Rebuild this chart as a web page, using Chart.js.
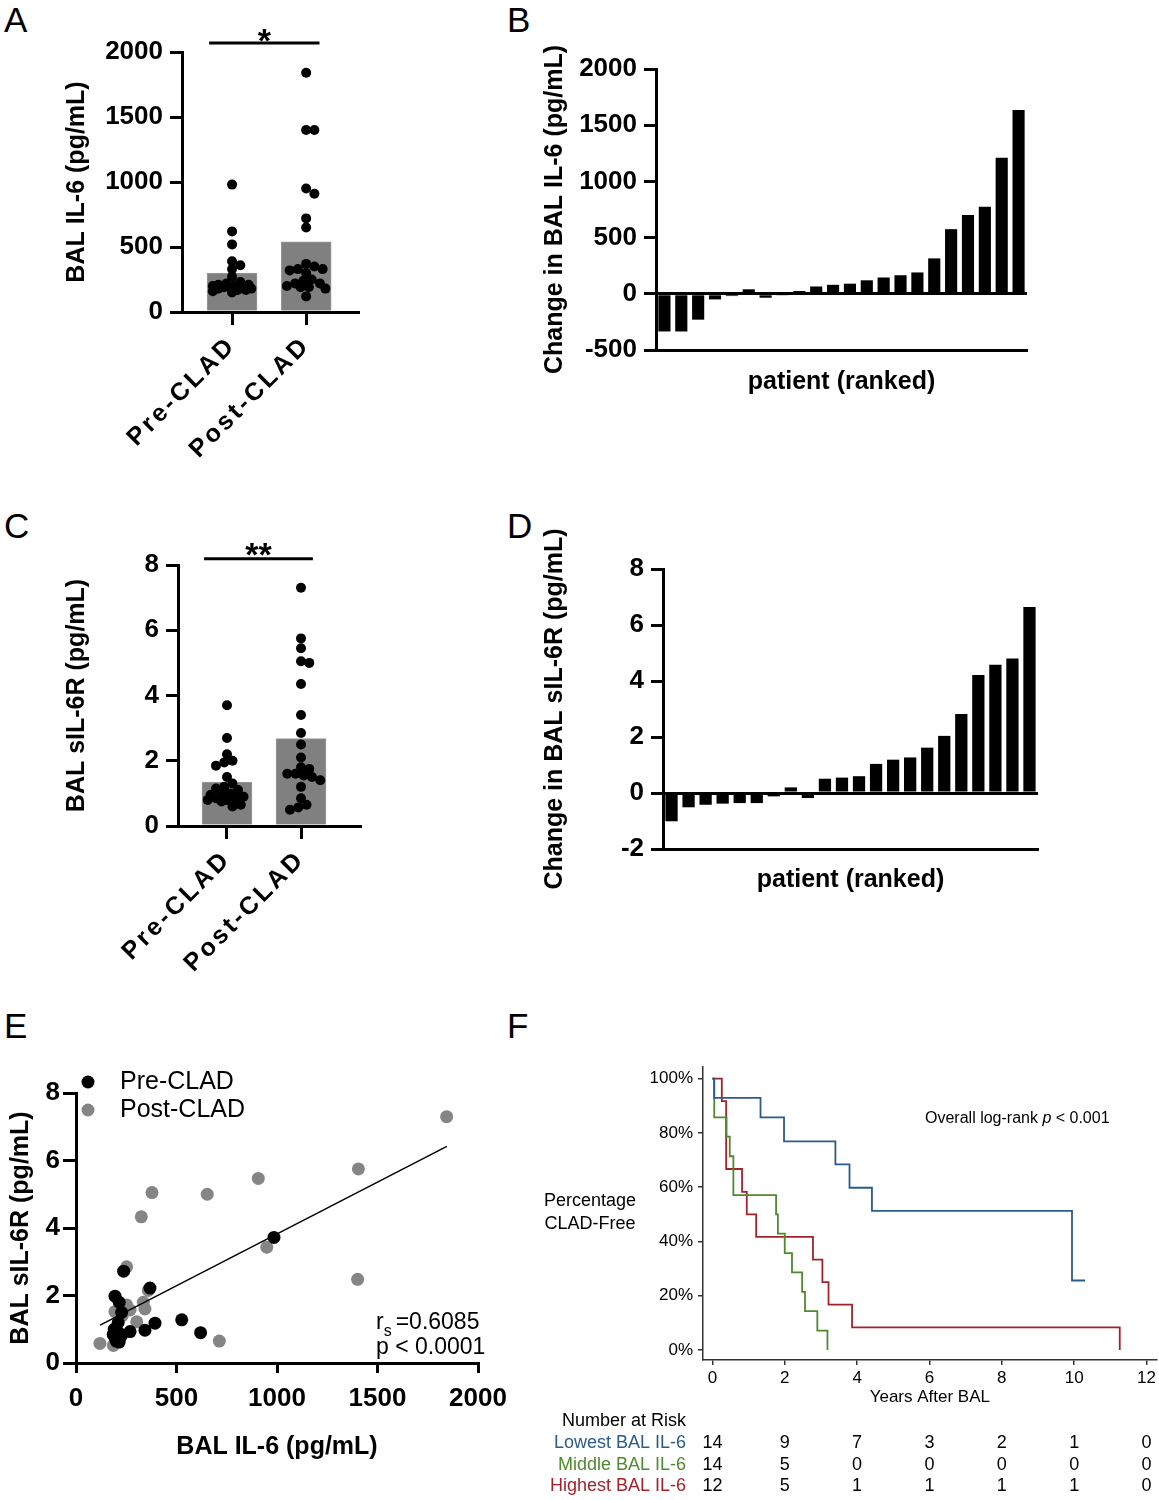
<!DOCTYPE html>
<html><head><meta charset="utf-8">
<script src="https://cdn.jsdelivr.net/npm/chart.js@4.4.1/dist/chart.umd.min.js"></script>
<style>
html,body{margin:0;padding:0;background:#fff;}
body{width:1159px;height:1500px;position:relative;overflow:hidden;font-family:"Liberation Sans",Arial,Helvetica,sans-serif;}
canvas{position:absolute;}
.lbl{position:absolute;font-size:35px;line-height:1;color:#000;font-family:"Liberation Sans",Arial,sans-serif;}
</style></head><body>
<div class="lbl" style="left:4px;top:2px">A</div>
<div class="lbl" style="left:507px;top:2px">B</div>
<div class="lbl" style="left:4px;top:508px">C</div>
<div class="lbl" style="left:507px;top:508px">D</div>
<div class="lbl" style="left:4px;top:1008px">E</div>
<div class="lbl" style="left:507px;top:1008px">F</div>
<script>
// ---------------- DATA ----------------
const groupLabels = ['Pre-CLAD', 'Post-CLAD'];

const il6Pre  = [980, 620, 520, 390, 360, 330, 270, 230, 220, 210, 210, 200, 200, 200, 190, 190, 180, 180, 170, 170, 160, 150];
const il6Post = [1840, 1400, 1400, 950, 910, 720, 650, 370, 350, 330, 330, 320, 300, 250, 240, 220, 220, 200, 190, 190, 180, 120];
const il6BarMeans = [300, 540];

const il6Change = [-335, -335, -230, -50, -20, 40, -35, -15, 25, 65, 80, 90, 120, 145, 165, 190, 315, 575, 700, 775, 1210, 1635];

const sil6rPre  = [3.7, 2.7, 2.2, 2.0, 1.95, 1.85, 1.5, 1.3, 1.2, 1.15, 1.1, 1.0, 0.95, 0.95, 0.9, 0.85, 0.85, 0.8, 0.8, 0.75, 0.65, 0.6];
const sil6rPost = [7.3, 5.75, 5.45, 5.05, 5.0, 4.35, 3.4, 2.85, 2.5, 2.1, 1.8, 1.75, 1.6, 1.6, 1.55, 1.5, 1.4, 1.2, 0.85, 0.65, 0.57, 0.5];
const sil6rBarMeans = [1.35, 2.68];

const sil6rChange = [-1.01, -0.51, -0.42, -0.38, -0.36, -0.36, -0.12, 0.2, -0.18, 0.51, 0.55, 0.6, 1.04, 1.19, 1.27, 1.62, 2.04, 2.82, 4.21, 4.58, 4.8, 6.64];

const corrPreIL6    = [985, 620, 526, 393, 368, 343, 269, 237, 194, 215, 227, 210, 190, 205, 185, 215, 195, 210, 200, 215, 190, 225];
const corrPreSIL6R  = [3.72, 0.9, 1.28, 1.18, 2.22, 0.97, 0.93, 2.72, 1.98, 1.8, 1.5, 1.2, 1.0, 0.95, 0.85, 0.88, 0.75, 0.7, 0.65, 0.62, 0.8, 0.8];
const corrPostIL6   = [1844, 1405, 907, 378, 653, 325, 949, 252, 1401, 360, 335, 343, 252, 269, 194, 302, 119, 186, 713, 230, 210, 240];
const corrPostSIL6R = [7.3, 5.75, 5.47, 5.05, 5.0, 4.33, 3.43, 2.85, 2.48, 2.15, 1.8, 1.6, 1.72, 1.57, 1.52, 1.22, 0.58, 0.52, 0.65, 1.4, 0.85, 1.65];
const regIL6   = [120, 1845];
const regSIL6R = [1.12, 6.42];
const corrStat = ['=0.6085', 'p < 0.0001'];

const kmLowT  = [0, 0.05, 1.33, 1.98, 3.4, 3.79, 4.41, 9.94, 10.3];
const kmLowS  = [100, 92.9, 85.7, 76.9, 68.4, 59.8, 51.3, 25.6, 25.6];
const kmMidT  = [0, 0.05, 0.39, 0.48, 0.58, 1.76, 1.81, 2.0, 2.2, 2.48, 2.56, 2.9, 3.18];
const kmMidS  = [100, 85.7, 78.6, 71.4, 57.1, 50.0, 42.9, 35.7, 28.6, 21.4, 14.3, 7.1, 0];
const kmHighT = [0, 0.26, 0.38, 0.82, 0.95, 1.21, 2.78, 3.04, 3.21, 3.86, 11.26];
const kmHighS = [100, 91.7, 66.7, 58.3, 50.0, 41.7, 33.3, 25.0, 16.7, 8.3, 0];
const kmGroups = ['Lowest BAL IL-6', 'Middle BAL IL-6', 'Highest BAL IL-6'];
const riskTimes = [0, 2, 4, 6, 8, 10, 12];
const riskLow  = [14, 9, 7, 3, 2, 1, 0];
const riskMid  = [14, 5, 0, 0, 0, 0, 0];
const riskHigh = [12, 5, 1, 1, 1, 1, 0];
const kmYTicks = [0, 20, 40, 60, 80, 100];

// ---------------- HELPERS ----------------
const FONT = '"Liberation Sans", Arial, Helvetica, sans-serif';
Chart.defaults.font.family = FONT;
Chart.defaults.color = '#000';
const plain = v => String(v);

function makeCanvas(x, y, w, h) {
  const c = document.createElement('canvas');
  c.width = w; c.height = h;
  c.style.left = x + 'px'; c.style.top = y + 'px';
  c.style.width = w + 'px'; c.style.height = h + 'px';
  document.body.appendChild(c);
  return c;
}
function pad(box, area, yW, xH) {
  return {left: area.l - box.x - yW, top: area.t - box.y, right: box.x + box.w - area.r, bottom: box.y + box.h - area.b - xH};
}
const baseOpts = {responsive: false, animation: false, devicePixelRatio: 1, events: []};

// deterministic beeswarm: spread overlapping points sideways, kept within the bar
function swarm(chart, dsIndex, values, groupIndex, r, maxOff) {
  const xs = chart.scales.x, ys = chart.scales.y, cx = xs.getPixelForValue(groupIndex);
  const placed = [], out = [];
  const order = values.map((v, i) => i).sort((a, b) => values[b] - values[a]);
  const minD = 1.55 * r;
  for (const i of order) {
    const py = ys.getPixelForValue(values[i]);
    let best = cx, bestScore = -1;
    for (let k = 0; k < 60; k++) {
      const off = Math.ceil(k / 2) * (k % 2 ? 1 : -1) * r * 0.55;
      if (Math.abs(off) > maxOff) continue;
      const cand = cx + off;
      const d = placed.length ? Math.min(...placed.map(p => Math.hypot(p.x - cand, p.y - py))) : 1e9;
      if (d >= minD) { best = cand; bestScore = 1e9; break; }
      if (d > bestScore) { bestScore = d; best = cand; }
    }
    placed.push({x: best, y: py});
    out[i] = {x: xs.getValueForPixel(best), y: values[i]};
  }
  chart.data.datasets[dsIndex].data = out;
}

function sigPlugin(x0, x1, yv, text, dy) {
  return {id: 'sig', afterDraw(c) {
    const ctx = c.ctx, xs = c.scales.x, ys = c.scales.y;
    ctx.save();
    ctx.letterSpacing = '0px';
    const y = ys.getPixelForValue(yv), a = xs.getPixelForValue(x0), b = xs.getPixelForValue(x1);
    ctx.strokeStyle = '#000'; ctx.lineWidth = 3;
    ctx.beginPath(); ctx.moveTo(a, y); ctx.lineTo(b, y); ctx.stroke();
    ctx.fillStyle = '#000'; ctx.font = 'bold 34px ' + FONT;
    ctx.textAlign = 'center'; ctx.textBaseline = 'alphabetic';
    ctx.fillText(text, (a + b) / 2, y + dy);
    ctx.restore();
  }};
}
const spacedTicks = {id: 'spaced',
  beforeDraw(c) { c.ctx.letterSpacing = '0px'; },
  afterDatasetsDraw(c) { c.ctx.letterSpacing = '3px'; },
  afterDraw(c) { c.ctx.letterSpacing = '0px'; }};

const boldTick = {size: 26, weight: 'bold'};
const boldTitle = {size: 25, weight: 'bold'};

// ---------------- GROUP PANELS (A, C) ----------------
function groupPanel(o) {
  const cv = makeCanvas(o.box.x, o.box.y, o.box.w, o.box.h);
  const chart = new Chart(cv, {
    type: 'bar',
    data: {datasets: [
      {type: 'scatter', label: groupLabels[0], data: [], backgroundColor: '#000', pointBackgroundColor: '#000', pointBorderWidth: 0, pointRadius: 5, order: 0},
      {type: 'scatter', label: groupLabels[1], data: [], backgroundColor: '#000', pointBackgroundColor: '#000', pointBorderWidth: 0, pointRadius: 5, order: 0},
      {type: 'bar', label: 'mean', data: o.means.map((m, i) => ({x: i, y: m})), backgroundColor: '#808080', borderColor: '#9c9c9c', borderWidth: 1, barThickness: 50, order: 1}
    ]},
    options: Object.assign({}, baseOpts, {
      layout: {padding: pad(o.box, o.area, o.yW, o.xH)},
      plugins: {legend: {display: false}, tooltip: {enabled: false}},
      scales: {
        x: {type: 'linear', min: o.xMin, max: o.xMax, offset: false,
          afterBuildTicks: s => { s.ticks = groupLabels.map((_, i) => ({value: i})); },
          afterFit: s => { s.height = o.xH; },
          ticks: {autoSkip: false, maxRotation: 45, minRotation: 45, padding: o.xPad, font: {size: 25, weight: 'bold'}, color: '#000', z: 1,
                  callback: v => groupLabels[v]},
          grid: {display: true, offset: false, drawOnChartArea: false, drawTicks: true, tickLength: 13, lineWidth: 3, color: '#000'},
          border: {display: true, width: 3, color: '#000'}},
        y: {min: 0, max: o.yMax,
          afterFit: s => { s.width = o.yW; },
          ticks: {stepSize: o.yStep, font: boldTick, color: '#000', padding: 7, callback: plain},
          grid: {drawOnChartArea: false, tickLength: 12, lineWidth: 3, color: '#000'},
          border: {display: true, width: 3, color: '#000'},
          title: {display: true, text: o.yTitle, font: boldTitle, color: '#000', padding: 0}}
      }
    }),
    plugins: [sigPlugin(o.sig[0], o.sig[1], o.sig[2], o.sig[3], o.sig[4]), spacedTicks]
  });
  swarm(chart, 0, o.pre, 0, 5, 21);
  swarm(chart, 1, o.post, 1, 5, 21);
  chart.update('none');
}

groupPanel({box: {x: 0, y: 0, w: 400, h: 480}, area: {l: 182, t: 52, r: 358, b: 312}, yW: 120, xH: 160, xPad: 6,
  xMin: -0.676, xMax: 1.70, yMax: 2000, yStep: 500, yTitle: 'BAL IL-6 (pg/mL)',
  means: il6BarMeans, pre: il6Pre, post: il6Post, sig: [-0.31, 1.18, 2070, '*', 9]});

groupPanel({box: {x: 0, y: 500, w: 400, h: 500}, area: {l: 178, t: 565, r: 360, b: 826}, yW: 116, xH: 160, xPad: 6,
  xMin: -0.662, xMax: 1.797, yMax: 8, yStep: 2, yTitle: 'BAL sIL-6R (pg/mL)',
  means: sil6rBarMeans, pre: sil6rPre, post: sil6rPost, sig: [-0.31, 1.16, 8.19, '**', 7]});

// ---------------- CHANGE PANELS (B, D) ----------------
function changePanel(o) {
  const cv = makeCanvas(o.box.x, o.box.y, o.box.w, o.box.h);
  new Chart(cv, {
    type: 'bar',
    data: {labels: o.values.map((_, i) => String(i + 1)),
      datasets: [{label: o.yTitle, data: o.values, backgroundColor: '#000', borderWidth: 0, barPercentage: 0.72, categoryPercentage: 1}]},
    options: Object.assign({}, baseOpts, {
      layout: {padding: pad(o.box, o.area, o.yW, o.xH)},
      plugins: {legend: {display: false}, tooltip: {enabled: false}},
      scales: {
        x: {type: 'category', offset: true,
          afterFit: s => { s.height = o.xH; },
          ticks: {display: false},
          grid: {display: false},
          border: {display: true, width: 3, color: '#000'},
          title: {display: true, text: 'patient (ranked)', font: boldTitle, color: '#000', padding: 0}},
        y: {min: o.yMin, max: o.yMax,
          afterFit: s => { s.width = o.yW; },
          ticks: {stepSize: o.yStep, font: boldTick, color: '#000', padding: 7, callback: plain},
          grid: {drawOnChartArea: true, tickLength: 12, lineWidth: 3, tickColor: '#000',
                 color: c => (c.tick && c.tick.value === 0) ? '#000' : 'rgba(0,0,0,0)'},
          border: {display: true, width: 3, color: '#000'},
          title: {display: true, text: o.yTitle, font: boldTitle, color: '#000', padding: 0}}
      }
    })
  });
}

changePanel({box: {x: 520, y: 15, w: 540, h: 400}, area: {l: 656, t: 69, r: 1027, b: 350}, yW: 116, xH: 47,
  yMin: -500, yMax: 2000, yStep: 500, yTitle: 'Change in BAL IL-6 (pg/mL)', values: il6Change});

changePanel({box: {x: 520, y: 490, w: 540, h: 420}, area: {l: 663, t: 569, r: 1038, b: 849}, yW: 123, xH: 46,
  yMin: -2, yMax: 8, yStep: 2, yTitle: 'Change in BAL sIL-6R (pg/mL)', values: sil6rChange});

// ---------------- CORRELATION PANEL (E) ----------------
(function () {
  const box = {x: 0, y: 1040, w: 520, h: 460}, area = {l: 76, t: 1093, r: 478, b: 1363};
  const cv = makeCanvas(box.x, box.y, box.w, box.h);
  const legendPlugin = {id: 'eLegend', afterDraw(c) {
    const ctx = c.ctx; ctx.save();
    const rows = [{ds: c.data.datasets[0], y: 1082}, {ds: c.data.datasets[1], y: 1110}];
    rows.forEach(r => {
      ctx.fillStyle = r.ds.backgroundColor;
      ctx.beginPath(); ctx.arc(88 - box.x, r.y - box.y, 6.5, 0, Math.PI * 2); ctx.fill();
      ctx.fillStyle = '#000'; ctx.font = '25px ' + FONT; ctx.textAlign = 'left'; ctx.textBaseline = 'middle';
      ctx.fillText(r.ds.label, 120 - box.x, r.y - box.y);
    });
    ctx.textBaseline = 'alphabetic'; ctx.textAlign = 'left';
    let x = 376 - box.x; const y1 = 1329 - box.y;
    ctx.font = '23px ' + FONT; ctx.fillText('r', x, y1); x += ctx.measureText('r').width;
    ctx.font = '16px ' + FONT; ctx.fillText('s', x, y1 + 7); x += ctx.measureText('s').width + 4;
    ctx.font = '23px ' + FONT; ctx.fillText(corrStat[0], x, y1);
    ctx.fillText(corrStat[1], 376 - box.x, 1354 - box.y);
    ctx.restore();
  }};
  new Chart(cv, {
    type: 'scatter',
    data: {datasets: [
      {label: groupLabels[0], data: corrPreIL6.map((x, i) => ({x, y: corrPreSIL6R[i]})), backgroundColor: '#000', pointBackgroundColor: '#000', pointBorderWidth: 0, pointRadius: 6.5, order: 1},
      {label: groupLabels[1], data: corrPostIL6.map((x, i) => ({x, y: corrPostSIL6R[i]})), backgroundColor: '#858585', pointBackgroundColor: '#858585', pointBorderWidth: 0, pointRadius: 6.5, order: 2},
      {type: 'line', label: 'fit', data: regIL6.map((x, i) => ({x, y: regSIL6R[i]})), borderColor: '#000', borderWidth: 1.5, pointRadius: 0, fill: false, showLine: true, order: 0}
    ]},
    options: Object.assign({}, baseOpts, {
      layout: {padding: pad(box, area, 70, 99)},
      plugins: {legend: {display: false}, tooltip: {enabled: false}},
      scales: {
        x: {type: 'linear', min: 0, max: 2000,
          afterFit: s => { s.height = 99; },
          ticks: {stepSize: 500, font: boldTick, color: '#000', padding: 10, callback: plain},
          grid: {drawOnChartArea: false, tickLength: 10, lineWidth: 3, color: '#000'},
          border: {display: true, width: 3, color: '#000'},
          title: {display: true, text: 'BAL IL-6 (pg/mL)', font: boldTitle, color: '#000', padding: 0}},
        y: {min: 0, max: 8,
          afterFit: s => { s.width = 70; },
          ticks: {stepSize: 2, font: boldTick, color: '#000', padding: 3, callback: plain},
          grid: {drawOnChartArea: false, tickLength: 13, lineWidth: 3, color: '#000'},
          border: {display: true, width: 3, color: '#000'},
          title: {display: true, text: 'BAL sIL-6R (pg/mL)', font: boldTitle, color: '#000', padding: 0}}
      }
    }),
    plugins: [legendPlugin]
  });
})();

// ---------------- KAPLAN-MEIER PANEL (F) ----------------
(function () {
  const box = {x: 520, y: 1040, w: 639, h: 460}, area = {l: 703, t: 1067, r: 1158, b: 1360};
  const colors = ['#2b5b8b', '#4e8a2e', '#a4232b'];
  const cv = makeCanvas(box.x, box.y, box.w, box.h);
  const kmText = {id: 'kmText', afterDraw(c) {
    const ctx = c.ctx, xs = c.scales.x;
    ctx.save();
    ctx.fillStyle = '#000'; ctx.textBaseline = 'middle';
    ctx.font = '18px ' + FONT; ctx.textAlign = 'center';
    ctx.fillText('Percentage', 590 - box.x, 1201 - box.y);
    ctx.fillText('CLAD-Free', 590 - box.x, 1224 - box.y);
    ctx.textAlign = 'left';
    let x = 925 - box.x;
    [['Overall log-rank ', ''], ['p', 'italic '], [' < 0.001', '']].forEach(([t, st]) => {
      ctx.font = st + '16px ' + FONT; ctx.fillText(t, x, 1119 - box.y); x += ctx.measureText(t).width;
    });
    ctx.font = '18px ' + FONT; ctx.textAlign = 'right';
    ctx.fillText('Number at Risk', 686 - box.x, 1421 - box.y);
    const rows = [{label: kmGroups[0], n: riskLow, y: 1443}, {label: kmGroups[1], n: riskMid, y: 1465}, {label: kmGroups[2], n: riskHigh, y: 1486}];
    rows.forEach((r, k) => {
      ctx.fillStyle = colors[k]; ctx.textAlign = 'right';
      ctx.fillText(r.label, 686 - box.x, r.y - box.y);
      ctx.fillStyle = '#000'; ctx.textAlign = 'center';
      r.n.forEach((n, i) => ctx.fillText(String(n), xs.getPixelForValue(riskTimes[i]), r.y - box.y));
    });
    ctx.restore();
  }};
  const mk = (T, S, k) => ({label: kmGroups[k], data: T.map((t, i) => ({x: t, y: S[i]})), borderColor: colors[k], borderWidth: 1.8,
    pointRadius: 0, fill: false, stepped: 'before', tension: 0});
  new Chart(cv, {
    type: 'line',
    data: {datasets: [mk(kmLowT, kmLowS, 0), mk(kmMidT, kmMidS, 1), mk(kmHighT, kmHighS, 2)]},
    options: Object.assign({}, baseOpts, {
      layout: {padding: pad(box, area, 183, 48)},
      plugins: {legend: {display: false}, tooltip: {enabled: false}},
      scales: {
        x: {type: 'linear', min: -0.26, max: 12.28,
          afterBuildTicks: s => { s.ticks = riskTimes.map(v => ({value: v})); },
          afterFit: s => { s.height = 48; },
          ticks: {autoSkip: false, maxRotation: 0, font: {size: 17}, color: '#000', padding: 3, callback: plain},
          grid: {drawOnChartArea: false, tickLength: 5, lineWidth: 1.5, color: '#333'},
          border: {display: true, width: 1.5, color: '#333'},
          title: {display: true, text: 'Years After BAL', font: {size: 17}, color: '#000', padding: 0}},
        y: {min: -3.7, max: 104.3,
          afterBuildTicks: s => { s.ticks = kmYTicks.map(v => ({value: v})); },
          afterFit: s => { s.width = 183; },
          ticks: {font: {size: 17}, color: '#000', padding: 5, callback: v => v + '%'},
          grid: {drawOnChartArea: false, tickLength: 5, lineWidth: 1.5, color: '#333'},
          border: {display: true, width: 1.5, color: '#333'}}
      }
    }),
    plugins: [kmText]
  });
})();
</script>
</body></html>
